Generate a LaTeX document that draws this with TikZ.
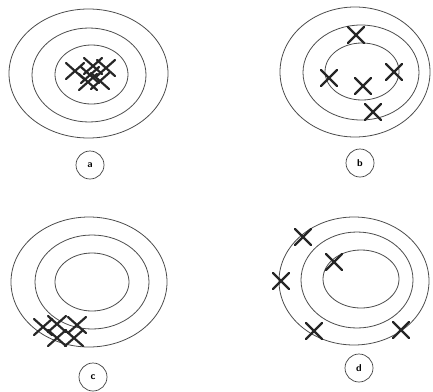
\documentclass[tikz,border=0pt]{standalone}
\usetikzlibrary{positioning}
\begin{document}
\begin{tikzpicture}[x=1pt,y=-1pt,
  ring/.style={draw=black!70,line width=0.8pt},
  hit/.style={draw=black!85,line width=2.2pt,line cap=round},
  tag/.style={draw=black!75,circle,line width=0.7pt,minimum size=28pt,inner sep=0pt,font=\sffamily\bfseries}]
\useasboundingbox (0,0) rectangle (433,391);
% target a: grouped, on centre
\draw[ring] (88.5,73.5) ellipse [x radius=79.5,y radius=64.5];
\draw[ring] (89,75) ellipse [x radius=57,y radius=47];
\draw[ring] (91.5,74.5) ellipse [x radius=36.5,y radius=29.5];
\foreach \x/\y in {75/71,93/66,106/68,88/82,100/81,90/75}
  \draw[hit] (\x-9,\y-8) -- (\x+9,\y+8) (\x-9,\y+8) -- (\x+9,\y-8);
\node[tag] (a) at (90,165) {a};
% target b: spread, on centre
\draw[ring] (355,72) ellipse [x radius=75,y radius=65];
\draw[ring] (361,72.5) ellipse [x radius=58,y radius=47.5];
\draw[ring] (362,71.5) ellipse [x radius=37,y radius=28.5];
\foreach \x/\y in {356/35,329/78,363/86,394/72,373/112}
  \draw[hit] (\x-8,\y-8) -- (\x+8,\y+8) (\x-8,\y+8) -- (\x+8,\y-8);
\node[tag] (b) at (360,163) {b};
% target c: grouped, off centre
\draw[ring] (89,282) ellipse [x radius=78,y radius=65];
\draw[ring] (92,282) ellipse [x radius=57,y radius=47];
\draw[ring] (92,282) ellipse [x radius=37,y radius=29];
\foreach \x/\y in {43/327,57/324,77/325,57/338,74/338}
  \draw[hit] (\x-9,\y-8) -- (\x+9,\y+8) (\x-9,\y+8) -- (\x+9,\y-8);
\node[tag] (c) at (93,377) {c};
% target d: spread, off centre
\draw[ring] (354,281) ellipse [x radius=75,y radius=64];
\draw[ring] (357,280) ellipse [x radius=56,y radius=48];
\draw[ring] (361,279) ellipse [x radius=38,y radius=29];
\foreach \x/\y in {303/237,281/281,334/262,314/331,401/330}
  \draw[hit] (\x-8,\y-8) -- (\x+8,\y+8) (\x-8,\y+8) -- (\x+8,\y-8);
\node[tag] (d) at (359,368) {d};
\end{tikzpicture}
\end{document}
